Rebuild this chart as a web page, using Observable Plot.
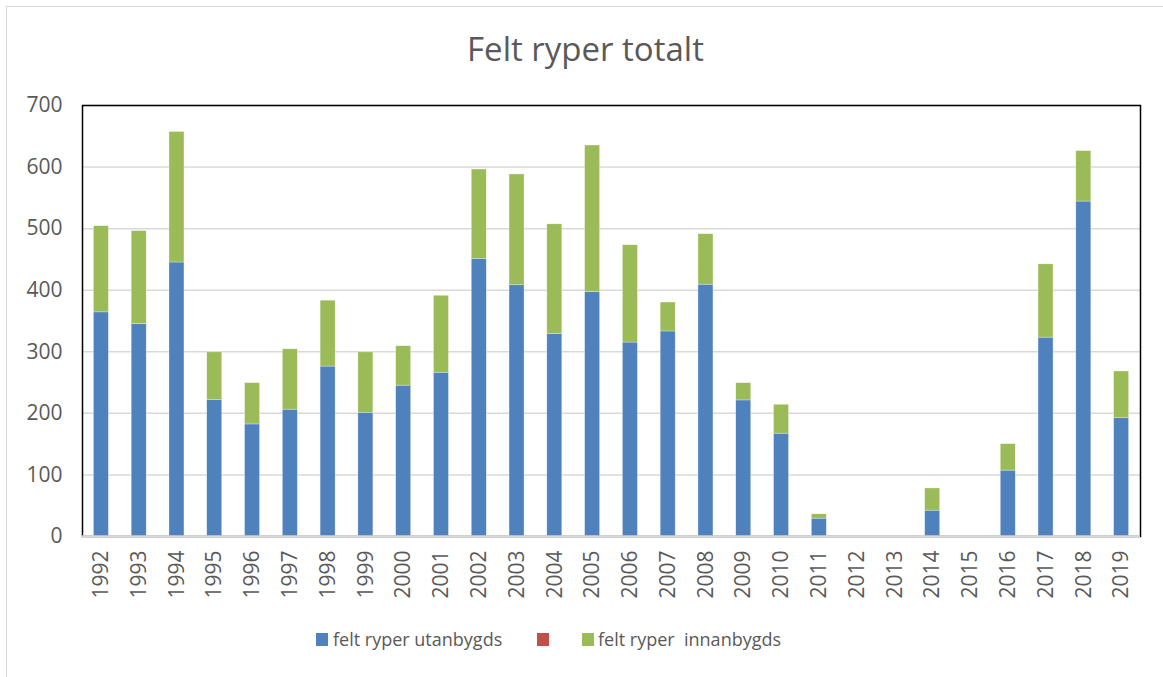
<!DOCTYPE html>
<html>
<head>
<meta charset="utf-8">
<script src="https://cdn.jsdelivr.net/npm/d3@7"></script>
<script src="https://cdn.jsdelivr.net/npm/@observablehq/plot@0.6"></script>
<style>
  body { margin: 0; background: #fff; font-family: "Open Sans", sans-serif; }
  #wrap { position: relative; width: 1163px; height: 677px; overflow: hidden; background: #fff; }
  #border { position: absolute; left: 6px; top: 6px; width: 1300px; height: 800px; border-left: 1.5px solid #d9d9d9; border-top: 1.5px solid #d9d9d9; }
  #title { position: absolute; top: 26px; left: 4px; width: 1163px; text-align: center; font-size: 33px; color: #595959; white-space: pre; }
  #chart { position: absolute; left: 0; top: 80px; }
  .sw { position: absolute; width: 12px; height: 13px; top: 633px; }
  .lt { position: absolute; top: 627px; font-size: 18px; color: #595959; white-space: pre; }
</style>
</head>
<body>
<div id="wrap">
  <div id="border"></div>
  <div id="title">Felt ryper totalt</div>
  <div id="chart"></div>
  <div id="legend"></div>
</div>
<script>
const years = ["1992","1993","1994","1995","1996","1997","1998","1999","2000","2001","2002","2003","2004","2005","2006","2007","2008","2009","2010","2011","2012","2013","2014","2015","2016","2017","2018","2019"];
const utanbygds = [364,345,445,222,182,206,276,201,245,266,451,408,329,397,315,333,409,221,167,29,0,0,42,0,107,323,544,192];
const innanbygds = [140,151,212,77,67,98,107,98,64,125,145,180,178,238,158,47,82,28,47,7,0,0,36,0,43,119,82,76];
const seriesNames = ["felt ryper utanbygds", "", "felt ryper  innanbygds"];
const seriesColors = ["#4f81bd", "#c0504d", "#9bbb59"];
const yTicks = [0,100,200,300,400,500,600,700];

const data = [];
years.forEach((y, i) => {
  data.push({year: y, series: seriesNames[0], value: utanbygds[i]});
  data.push({year: y, series: seriesNames[2], value: innanbygds[i]});
});

const chart = Plot.plot({
  width: 1163,
  height: 540,
  marginTop: 25,
  marginBottom: 84,
  marginLeft: 82,
  marginRight: 23,
  style: { fontFamily: "Open Sans, sans-serif", fontSize: "21px", color: "#595959", background: "transparent" },
  x: { type: "band", domain: years, padding: 0, round: false, label: null },
  y: { domain: [0, 700], label: null },
  color: { domain: seriesNames, range: seriesColors },
  marks: [
    Plot.gridY(yTicks, { stroke: "#d9d9d9", strokeOpacity: 1, strokeWidth: 1.5 }),
    Plot.barY(data, { x: "year", y: "value", fill: "series", insetLeft: 11.4, insetRight: 11.4, stroke: "#ffffff", strokeWidth: 0.5, strokeOpacity: 0.6 }),
    Plot.frame({ stroke: "#000", strokeWidth: 1.5 }),
    Plot.ruleY([0], { stroke: "#d9d9d9", strokeWidth: 2.5 }),
    Plot.axisY(yTicks, { tickSize: 0, tickPadding: 20, fontSize: 21, fill: "#595959", label: null }),
    Plot.axisX({ tickSize: 0, tickPadding: 14, tickRotate: -90, fontSize: 21, fill: "#595959", label: null })
  ]
});
document.getElementById("chart").appendChild(chart);

// Legend
const legend = document.getElementById("legend");
const items = [
  { sw: 316, tx: 333 },
  { sw: 537, tx: null },
  { sw: 582, tx: 598 }
];
items.forEach((it, i) => {
  const s = document.createElement("div");
  s.className = "sw";
  s.style.left = it.sw + "px";
  s.style.background = seriesColors[i];
  legend.appendChild(s);
  if (it.tx !== null && seriesNames[i]) {
    const t = document.createElement("div");
    t.className = "lt";
    t.style.left = it.tx + "px";
    t.textContent = seriesNames[i];
    legend.appendChild(t);
  }
});
</script>
</body>
</html>
